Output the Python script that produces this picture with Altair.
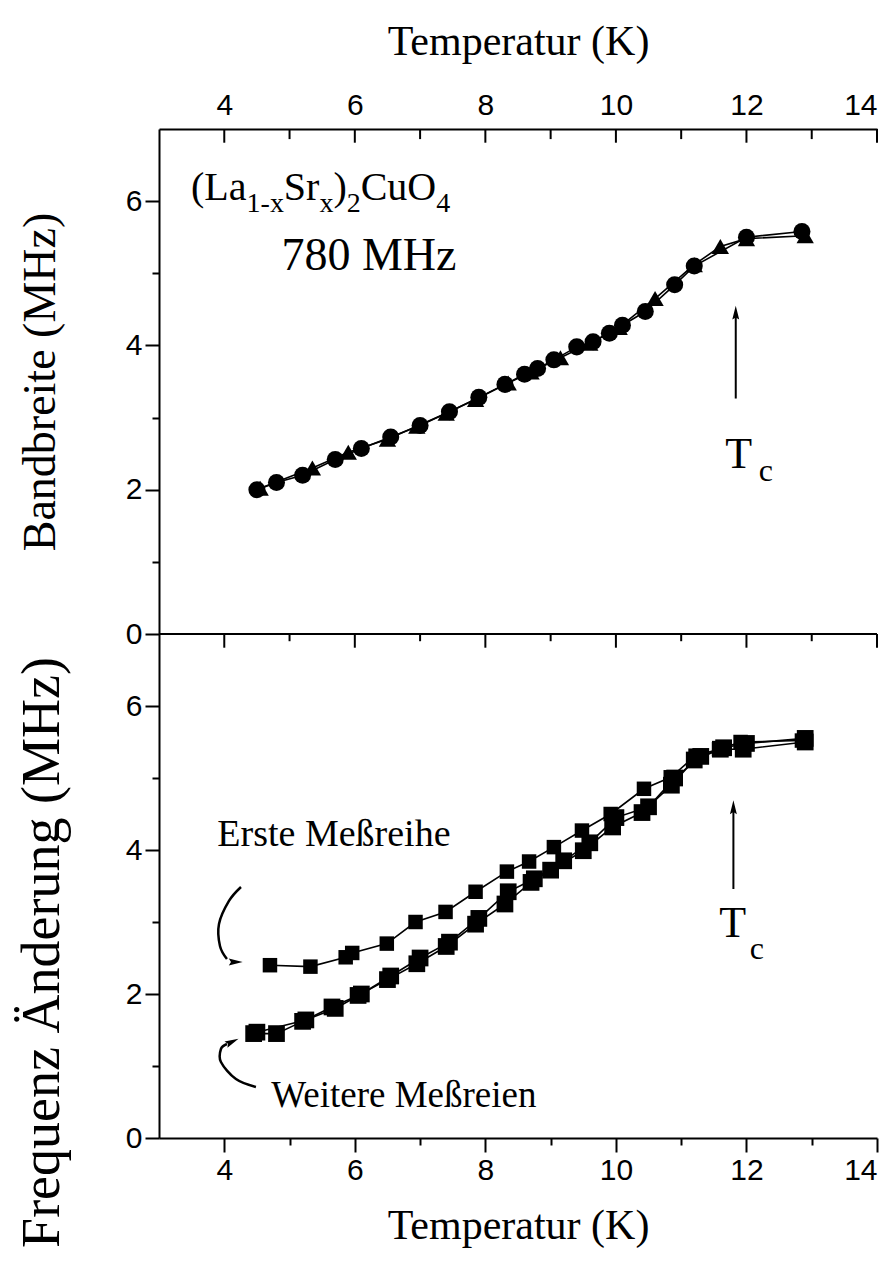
import altair as alt
import pandas as pd

# ---------------- Data ----------------
# Top panel: Bandbreite (MHz) vs Temperatur (K), circles and triangles
bw_circle_T = [4.5, 4.8, 5.2, 5.7, 6.1, 6.55, 7.0, 7.45, 7.9, 8.3, 8.6, 8.8, 9.05, 9.4, 9.65, 9.9, 10.1, 10.45, 10.9, 11.2, 12.0, 12.85]
bw_circle_v = [2.0, 2.1, 2.2, 2.42, 2.57, 2.73, 2.89, 3.08, 3.28, 3.46, 3.6, 3.68, 3.8, 3.98, 4.05, 4.17, 4.28, 4.47, 4.84, 5.1, 5.5, 5.58]
bw_tri_T = [4.55, 5.35, 5.9, 6.5, 6.95, 7.4, 7.85, 8.35, 8.7, 9.15, 9.6, 10.05, 10.6, 11.2, 11.6, 12.0, 12.9]
bw_tri_v = [2.02, 2.3, 2.52, 2.7, 2.88, 3.06, 3.25, 3.48, 3.63, 3.83, 4.03, 4.25, 4.65, 5.12, 5.37, 5.48, 5.52]

# Bottom panel: Frequenz Aenderung (MHz) vs Temperatur (K), squares
erste_T = [4.7, 5.32, 5.86, 5.96, 6.49, 6.93, 7.39, 7.85, 8.33, 8.67, 9.05, 9.48, 9.92, 10.43, 10.84, 11.22, 11.58, 11.91, 12.85]
erste_v = [2.4, 2.38, 2.51, 2.57, 2.7, 3.0, 3.14, 3.42, 3.7, 3.84, 4.04, 4.27, 4.5, 4.85, 5.01, 5.31, 5.4, 5.5, 5.52]
weit1_T = [4.45, 4.8, 5.2, 5.65, 6.05, 6.5, 6.95, 7.4, 7.85, 8.3, 8.7, 9.0, 9.5, 9.95, 10.4, 10.85, 11.2, 11.6, 11.95, 12.9]
weit1_v = [1.45, 1.45, 1.62, 1.82, 1.98, 2.2, 2.42, 2.66, 2.97, 3.25, 3.55, 3.72, 3.99, 4.32, 4.52, 4.9, 5.25, 5.4, 5.4, 5.5]
weit2_T = [4.5, 5.25, 5.7, 6.1, 6.55, 7.0, 7.45, 7.9, 8.35, 8.75, 9.2, 9.6, 10.0, 10.5, 10.9, 11.3, 11.65, 12.0, 12.9]
weit2_v = [1.47, 1.64, 1.8, 2.0, 2.25, 2.5, 2.72, 3.05, 3.42, 3.6, 3.85, 4.1, 4.45, 4.6, 5.0, 5.3, 5.42, 5.48, 5.55]

# Axis ticks
x_major = [4, 6, 8, 10, 12, 14]
x_minor = [5, 7, 9, 11, 13]
x_all = [4, 5, 6, 7, 8, 9, 10, 11, 12, 13, 14]
y_all = [0, 1, 2, 3, 4, 5, 6]
x_domain = [3, 14]
y_domain = [0, 7]

# Annotations (data coordinates)
formula_text = ["(La", "1-x", "Sr", "x", ")", "2", "CuO", "4"]
formula_T = [3.49, 4.342, 4.913, 5.458, 5.672, 5.876, 6.09, 7.248]
formula_v = [6.014, 5.847, 6.014, 5.847, 6.014, 5.847, 6.014, 5.847]
formula_fs = [40, 28, 40, 28, 40, 28, 40, 28]

freq_text = ["780 MHz"]
freq_T = [6.216]
freq_v = [5.05]

tc_top_T, tc_top_v0, tc_top_v1 = 11.836, 3.264, 4.45
tc_top_head_v = 4.43
tc_top_label_T = [11.882, 12.296]
tc_top_label_v = [2.486, 2.264]

tc_bot_T, tc_bot_v0, tc_bot_v1 = 11.8, 3.458, 4.58
tc_bot_head_v = 4.57
tc_bot_label_T = [11.79, 12.16]
tc_bot_label_v = [2.972, 2.625]
tc_label_text = ["T", "c"]
tc_label_fs = [44, 32]

erste_label = ["Erste Meßreihe"]
erste_label_T, erste_label_v = [5.68], [4.208]
weit_label = ["Weitere Meßreien"]
weit_label_T, weit_label_v = [6.752], [0.583]

erste_arrow_T = [4.256, 4.072, 3.919, 3.934, 4.041]
erste_arrow_v = [3.486, 3.292, 2.972, 2.667, 2.486]
erste_head = (4.149, 2.444, 0)
weit_arrow_T = [4.485, 4.179, 3.949, 3.949, 4.041]
weit_arrow_v = [0.708, 0.819, 1.056, 1.236, 1.306]
weit_head = (4.098, 1.328, 335)

# ---------------- Helpers ----------------
xs = alt.Scale(domain=x_domain, nice=False, zero=False)
ys = alt.Scale(domain=y_domain, nice=False, zero=False)

minor_tick = {"condition": {"test": "datum.value % 2 == 1", "value": 7}, "value": 14}
even_labels = "datum.value % 2 == 0 ? datum.label : ''"

SERIF = "Liberation Serif"
SANS = "Liberation Sans"

common = dict(domainColor="black", domainWidth=2, tickColor="black", tickWidth=2,
              labelColor="black", labelFont=SANS, labelFontSize=30,
              titleColor="black", titleFont=SERIF, titleFontWeight="normal", grid=False)

top_x_axis = alt.Axis(orient="top", values=x_major, ticks=False, title="Temperatur (K)",
                      titleFontSize=42, labelPadding=9, titlePadding=27, format="d", **common)
top_y_axis = alt.Axis(orient="left", values=y_all, labelExpr=even_labels, tickSize=minor_tick,
                      title="Bandbreite (MHz)", titleFontSize=46, titlePadding=61, labelPadding=3, **common)
bot_x_axis = alt.Axis(orient="bottom", values=x_all, labelExpr=even_labels, tickSize=minor_tick,
                      title="Temperatur (K)", titleFontSize=42, labelPadding=3, titlePadding=20, **common)
bot_y_axis = alt.Axis(orient="left", values=y_all, labelExpr=even_labels, tickSize=minor_tick,
                      title="Frequenz Änderung (MHz)", titleFontSize=54, titlePadding=56,
                      labelPadding=3, titleY=318, **common)


def X(axis, field="T"):
    return alt.X(f"{field}:Q", scale=xs, axis=axis)


def Y(axis, field="v"):
    return alt.Y(f"{field}:Q", scale=ys, axis=axis)


def series(T, v, shape, size, xa, ya, sw=1.6):
    df = pd.DataFrame({"T": T, "v": v})
    line = alt.Chart(df).mark_line(color="black", strokeWidth=sw).encode(x=X(xa), y=Y(ya))
    pts = alt.Chart(df).mark_point(shape=shape, filled=True, size=size, color="black", opacity=1).encode(
        x=X(xa), y=Y(ya))
    return [line, pts]


def texts(txt, T, v, fs, xa, ya, align="left", baseline="alphabetic"):
    df = pd.DataFrame({"T": T, "v": v, "t": txt, "fs": fs})
    return alt.Chart(df).mark_text(font=SERIF, color="black", align=align, baseline=baseline).encode(
        x=X(xa), y=Y(ya), text="t:N", size=alt.Size("fs:Q", scale=None, legend=None))


ARROW_UP = "M0,-1L0.4,0.6L0,0.35L-0.4,0.6Z"
ARROW_RIGHT = "M1,0L-0.6,0.4L-0.35,0L-0.6,-0.4Z"


def head(T, v, angle, shape, xa, ya):
    df = pd.DataFrame({"T": [T], "v": [v]})
    return alt.Chart(df).mark_point(shape=shape, filled=True, size=300, color="black", opacity=1,
                                    angle=angle).encode(x=X(xa), y=Y(ya))


def vrule(T, v0, v1, xa, ya, sw=2):
    df = pd.DataFrame({"T": T if isinstance(T, list) else [T],
                       "v": v0 if isinstance(v0, list) else [v0],
                       "v2": v1 if isinstance(v1, list) else [v1]})
    return alt.Chart(df).mark_rule(color="black", strokeWidth=sw).encode(
        x=X(xa), y=Y(ya), y2="v2:Q")


# ---------------- Top panel ----------------
ta, tya = top_x_axis, top_y_axis
top_layers = []
top_layers += series(bw_circle_T, bw_circle_v, "circle", 290, ta, tya)
top_layers += series(bw_tri_T, bw_tri_v, "triangle-up", 300, ta, tya)
# inward ticks on the top axis
top_layers.append(vrule(x_major, [7] * len(x_major), [7 - 0.19] * len(x_major), ta, tya))
top_layers.append(vrule(x_minor, [7] * len(x_minor), [7 - 0.14] * len(x_minor), ta, tya))
# shared middle line with downward ticks
mid = pd.DataFrame({"T": [x_domain[0]], "T2": [x_domain[1]], "v": [0]})
top_layers.append(alt.Chart(mid).mark_rule(color="black", strokeWidth=2).encode(
    x=X(ta), x2="T2:Q", y=Y(tya)))
top_layers.append(vrule(x_major, [0] * len(x_major), [-0.19] * len(x_major), ta, tya))
top_layers.append(vrule(x_minor, [0] * len(x_minor), [-0.1] * len(x_minor), ta, tya))
# annotations
top_layers.append(texts(formula_text, formula_T, formula_v, formula_fs, ta, tya))
top_layers.append(texts(freq_text, freq_T, freq_v, [46], ta, tya, align="center"))
top_layers.append(vrule(tc_top_T, tc_top_v0, tc_top_v1, ta, tya, sw=2))
top_layers.append(head(tc_top_T, tc_top_head_v, 0, ARROW_UP, ta, tya))
top_layers.append(texts(tc_label_text, tc_top_label_T, tc_top_label_v, tc_label_fs, ta, tya,
                        align="center", baseline="middle"))

top = alt.layer(*top_layers).properties(width=718, height=505)

# ---------------- Bottom panel ----------------
ba, bya = bot_x_axis, bot_y_axis
bot_layers = []
bot_layers += series(erste_T, erste_v, "square", 210, ba, bya)
bot_layers += series(weit1_T, weit1_v, "square", 280, ba, bya)
bot_layers += series(weit2_T, weit2_v, "square", 280, ba, bya)
bot_layers.append(vrule(tc_bot_T, tc_bot_v0, tc_bot_v1, ba, bya, sw=2))
bot_layers.append(head(tc_bot_T, tc_bot_head_v, 0, ARROW_UP, ba, bya))
bot_layers.append(texts(tc_label_text, tc_bot_label_T, tc_bot_label_v, tc_label_fs, ba, bya,
                        align="center", baseline="middle"))
bot_layers.append(texts(erste_label, erste_label_T, erste_label_v, [38], ba, bya,
                        align="center", baseline="middle"))
bot_layers.append(texts(weit_label, weit_label_T, weit_label_v, [37], ba, bya,
                        align="center", baseline="middle"))
for aT, av, hd in [(erste_arrow_T, erste_arrow_v, erste_head), (weit_arrow_T, weit_arrow_v, weit_head)]:
    df = pd.DataFrame({"T": aT, "v": av, "i": list(range(len(aT)))})
    bot_layers.append(alt.Chart(df).mark_line(color="black", strokeWidth=2.5, interpolate="cardinal").encode(
        x=X(ba), y=Y(bya), order="i:Q"))
    bot_layers.append(head(hd[0], hd[1], hd[2], ARROW_RIGHT, ba, bya))

bottom = alt.layer(*bot_layers).properties(width=718, height=504)

chart = alt.vconcat(top, bottom, spacing=0, bounds="flush").properties(
    padding={"left": 15, "top": 20, "right": 5, "bottom": 5},
    background="white",
).configure_view(stroke=None)

chart.save("out.html", embed_options={"renderer": "svg", "actions": False})
